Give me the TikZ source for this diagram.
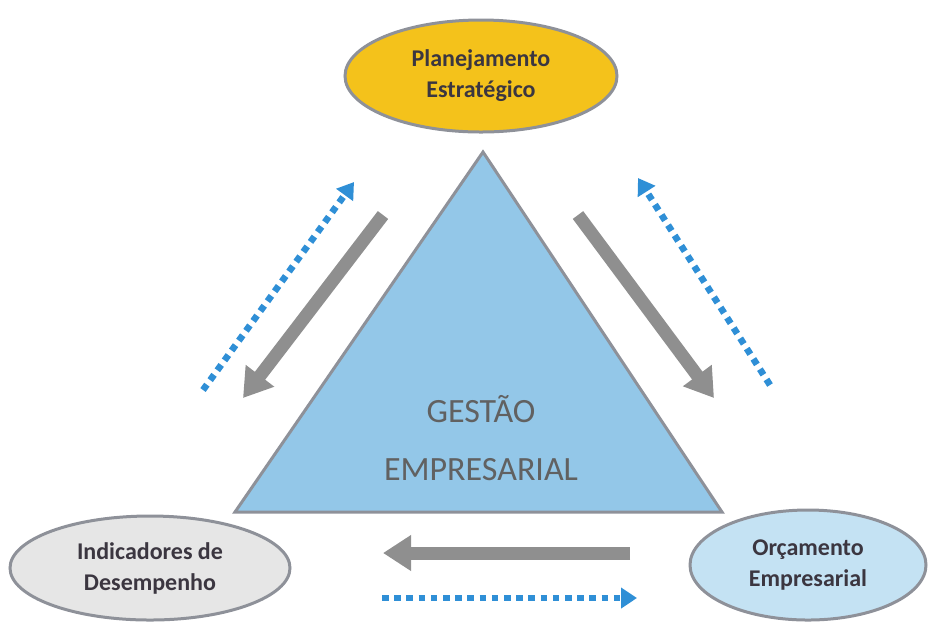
\documentclass[tikz,border=0pt]{standalone}
\usepackage{fontspec}
\setmainfont{Carlito}
\usetikzlibrary{arrows.meta,shapes.geometric}
\definecolor{amarelo}{HTML}{F4C21B}
\definecolor{cinzaclaro}{HTML}{E6E6E6}
\definecolor{azulclaro}{HTML}{C4E2F3}
\definecolor{azultri}{HTML}{93C7E8}
\definecolor{borda}{HTML}{8E9199}
\definecolor{seta}{HTML}{8F8F8F}
\definecolor{pontos}{HTML}{2F8FD6}
\definecolor{texto}{HTML}{3B3640}

\begin{document}
\begin{tikzpicture}[x=0.5pt,y=-0.5pt,
elipse/.style = {ellipse, draw=borda, line width=1.5pt, text=texto,
    font=\bfseries\fontsize{12}{15.5}\selectfont, align=center, inner sep=0pt},
cinza/.style = {draw=seta, line width=6.5pt,
    -{Triangle[width=17pt,length=14pt]}},
azul/.style = {draw=pontos, line width=3.3pt, dash pattern=on 3.3pt off 2.8pt,
    -{Triangle[width=10pt,length=8pt]}}]
\useasboundingbox (0,0) rectangle (936,623);
% triangle
\coordinate (topo) at (483,152);
\coordinate (esq) at (235,512);
\coordinate (dir) at (722,512);
\draw[fill=azultri, draw=borda, line width=1.5pt, line join=miter] (topo) -- (esq) -- (dir) -- cycle;
\node[text=black!62, font=\fontsize{17}{29}\selectfont, align=center] (gestao) at (481,438)
    {GESTÃO\\EMPRESARIAL};
% ellipses
\node[elipse, fill=amarelo, minimum width=136pt, minimum height=56pt] (plan) at (481,76)
    {Planejamento\\Estratégico};
\node[elipse, fill=cinzaclaro, minimum width=140pt, minimum height=52pt] (ind) at (150,568)
    {Indicadores de\\Desempenho};
\node[elipse, fill=azulclaro, minimum width=118pt, minimum height=55pt] (orc) at (808,565)
    {Orçamento\\Empresarial};
% arrows
\coordinate (a1) at (383,215);
\coordinate (a2) at (243,398);
\coordinate (b1) at (578,215);
\coordinate (b2) at (714,398);
\coordinate (c1) at (630,553);
\coordinate (c2) at (383,553);
\draw[cinza] (a1) -- (a2);
\draw[cinza] (b1) -- (b2);
\draw[cinza] (c1) -- (c2);
\coordinate (d1) at (203,390);
\coordinate (d2) at (354,182);
\coordinate (e1) at (770,385);
\coordinate (e2) at (638,178);
\coordinate (f1) at (382,598);
\coordinate (f2) at (637,598);
\draw[azul] (d1) -- (d2);
\draw[azul] (e1) -- (e2);
\draw[azul] (f1) -- (f2);
\end{tikzpicture}
\end{document}
